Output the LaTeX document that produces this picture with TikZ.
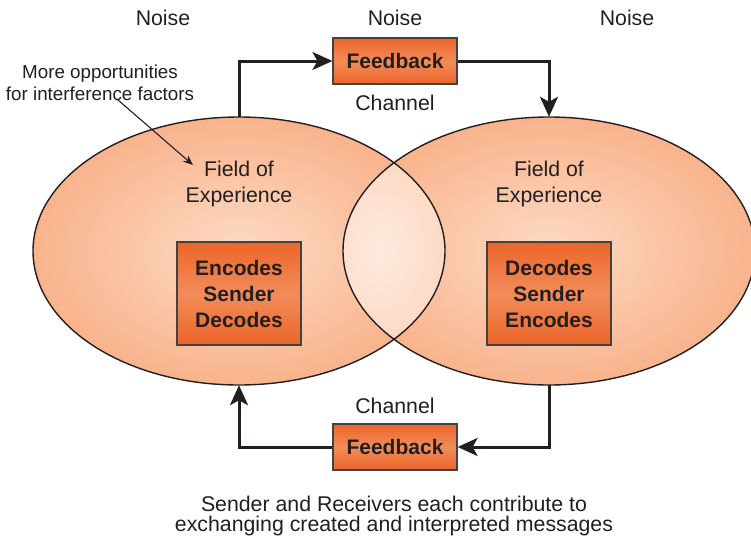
\documentclass[tikz,border=0pt]{standalone}
\usepackage{fontspec}
\setmainfont{Liberation Sans}
\usetikzlibrary{shapes.geometric,arrows.meta}
\definecolor{ink}{HTML}{231F20}
\definecolor{peachin}{HTML}{FDDAC4}
\definecolor{peachout}{HTML}{F8B38C}
\definecolor{lensin}{HTML}{FEEADE}
\definecolor{lensout}{HTML}{FCD6BF}
\definecolor{boxedge}{HTML}{EC6528}
\definecolor{boxmid}{HTML}{F28C5A}
\tikzset{
  field/.style={ellipse, minimum width=412pt, minimum height=268pt, inner sep=0pt,
    inner color=peachin, outer color=peachout},
  stepbox/.style={draw=ink!85, line width=1.2pt, top color=boxedge, bottom color=boxedge,
    middle color=boxmid, font=\fontsize{21}{24}\selectfont\bfseries, text=ink,
    align=center, inner sep=0pt},
  label/.style={font=\fontsize{21.3}{24}\selectfont, text=ink, align=center, inner sep=0pt},
  conn/.style={draw=ink, line width=3pt, -{Stealth[length=20pt,width=18pt,inset=5pt]}},
  pointer/.style={draw=ink, line width=1.1pt, -{Stealth[length=10pt,width=8pt]}}
}
\begin{document}
\begin{tikzpicture}[x=1pt,y=-1pt]
\useasboundingbox (0,0) rectangle (751,536);
\fill[white] (0,0) rectangle (751,536);

% the two overlapping fields of experience
\node[field] (lfield) at (239,251) {};
\node[field] (rfield) at (549,251) {};
\begin{scope}
  \clip (239,251) ellipse [x radius=206, y radius=134];
  \clip (549,251) ellipse [x radius=206, y radius=134];
  \shade[inner color=lensin, outer color=lensout] (380,251) ellipse [x radius=80, y radius=110];
\end{scope}
\draw[ink, line width=1.4pt] (239,251) ellipse [x radius=206, y radius=134];
\draw[ink, line width=1.4pt] (549,251) ellipse [x radius=206, y radius=134];

% labels
\node[label] (noise1) at (163,18) {Noise};
\node[label] (noise2) at (395,18) {Noise};
\node[label] (noise3) at (627,18) {Noise};
\node[label] (chan1) at (395,103) {Channel};
\node[label] (chan2) at (395,406) {Channel};
\node[label, font=\fontsize{21.3}{26}\selectfont] (ltext) at (239,184) {Field of\\Experience};
\node[label, font=\fontsize{21.3}{26}\selectfont] (rtext) at (549,184) {Field of\\Experience};
\node[label, font=\fontsize{18.8}{22}\selectfont] (note) at (100,83) {More opportunities\\for interference factors};
\node[label, font=\fontsize{21.3}{20}\selectfont] (caption) at (394,516)
  {Sender and Receivers each contribute to\\exchanging created and interpreted messages};

% boxes
\node[stepbox, minimum width=124pt, minimum height=103pt, font=\fontsize{21}{26}\selectfont\bfseries]
  (sender) at (239,293.5) {Encodes\\Sender\\Decodes};
\node[stepbox, minimum width=124pt, minimum height=103pt, font=\fontsize{21}{26}\selectfont\bfseries]
  (receiver) at (549,293.5) {Decodes\\Sender\\Encodes};
\node[stepbox, minimum width=124pt, minimum height=46pt] (fbtop) at (395,61) {Feedback};
\node[stepbox, minimum width=124pt, minimum height=46pt] (fbbot) at (395,447) {Feedback};

% feedback loop
\draw[conn] (lfield.north) |- (fbtop.west);
\draw[conn] (fbtop.east) -| (rfield.north);
\draw[conn] (rfield.south) |- (fbbot.east);
\draw[conn] (fbbot.west) -| (lfield.south);

% annotation pointer
\coordinate (ptip) at (193,165);
\draw[pointer] ([xshift=17pt,yshift=2pt]note.south) -- (ptip);
\end{tikzpicture}
\end{document}
